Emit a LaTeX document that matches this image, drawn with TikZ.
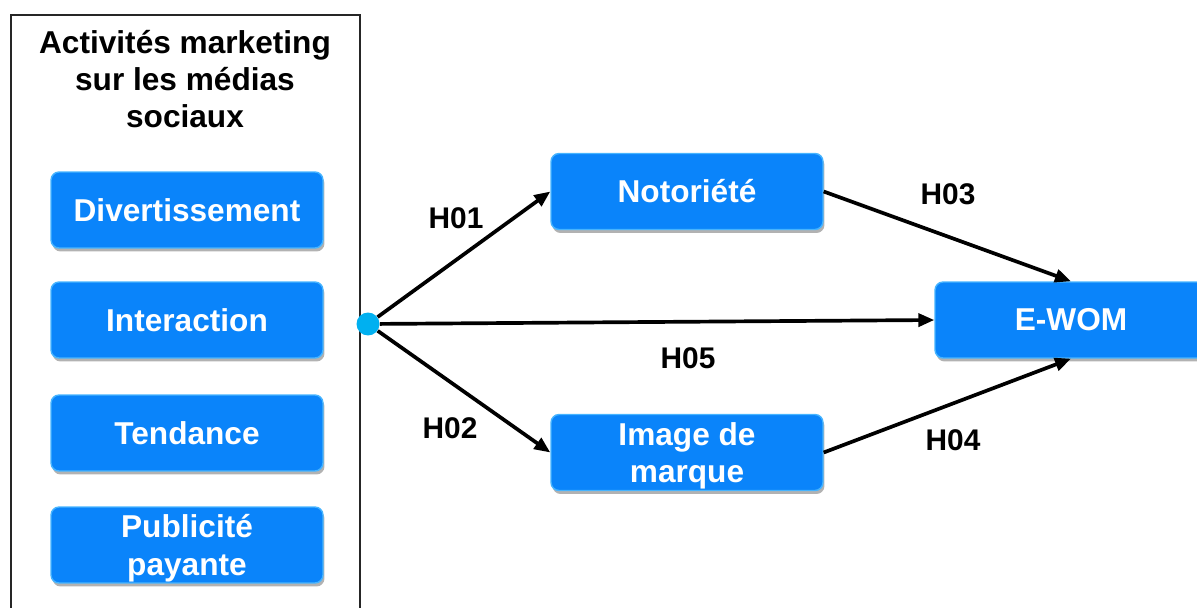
\documentclass[tikz,border=0pt]{standalone}
\usepackage{fontspec}
\setmainfont{Liberation Sans}
\usetikzlibrary{shadows,arrows.meta}
\definecolor{boxblue}{RGB}{10,132,250}
\definecolor{boxedge}{RGB}{70,180,255}
\definecolor{dotblue}{RGB}{0,176,240}
\begin{document}
\begin{tikzpicture}[x=0.02cm,y=-0.02cm,
  box/.style={draw=boxedge, line width=0.8pt, fill=boxblue, rounded corners=0.16cm,
    minimum width=5.44cm, minimum height=1.52cm, text=white, align=center,
    font=\bfseries\fontsize{18}{21.5}\selectfont, inner sep=0pt,
    drop shadow={shadow xshift=0.03cm, shadow yshift=-0.07cm, opacity=0.3, fill=black}},
  twoline/.style={text depth=-2pt},
  title/.style={align=center, font=\bfseries\fontsize{18}{21}\selectfont, inner sep=0pt},
  hlabel/.style={font=\bfseries\fontsize{17}{20}\selectfont, inner sep=0pt},
  arr/.style={line width=2.1pt, -{Triangle[length=0.32cm,width=0.26cm]}}]
\useasboundingbox (0,0) rectangle (1197,608);
\clip (0,0) rectangle (1197,608);
\draw[line width=0.7pt, draw=black!85] (11,15) rectangle (360,650);
\node[title] (title) at (185,79) {Activités marketing\\sur les médias\\sociaux};
\node[box] (div) at (187,210) {Divertissement};
\node[box] (inter) at (187,320) {Interaction};
\node[box] (tend) at (187,433) {Tendance};
\node[box,twoline] (pub) at (187,545) {Publicité\\payante};
\node[box] (noto) at (687,191.5) {Notoriété};
\node[box,twoline] (image) at (687,452.5) {Image de\\marque};
\node[box] (ewom) at (1071,320) {E-WOM};
\node[circle, fill=dotblue, minimum size=0.46cm, inner sep=0pt] (dot) at (368,324) {};
\draw[arr] (dot) -- (noto.west);
\draw[arr] (dot) -- (ewom.west);
\draw[arr] (dot) -- (image.west);
\draw[arr] (noto.east) -- (ewom.north);
\draw[arr] (image.east) -- (ewom.south);
\node[hlabel] (h01) at (456,218) {H01};
\node[hlabel] (h02) at (450,428) {H02};
\node[hlabel] (h03) at (948,194) {H03};
\node[hlabel] (h04) at (953,440) {H04};
\node[hlabel] (h05) at (688,358) {H05};
\end{tikzpicture}
\end{document}
